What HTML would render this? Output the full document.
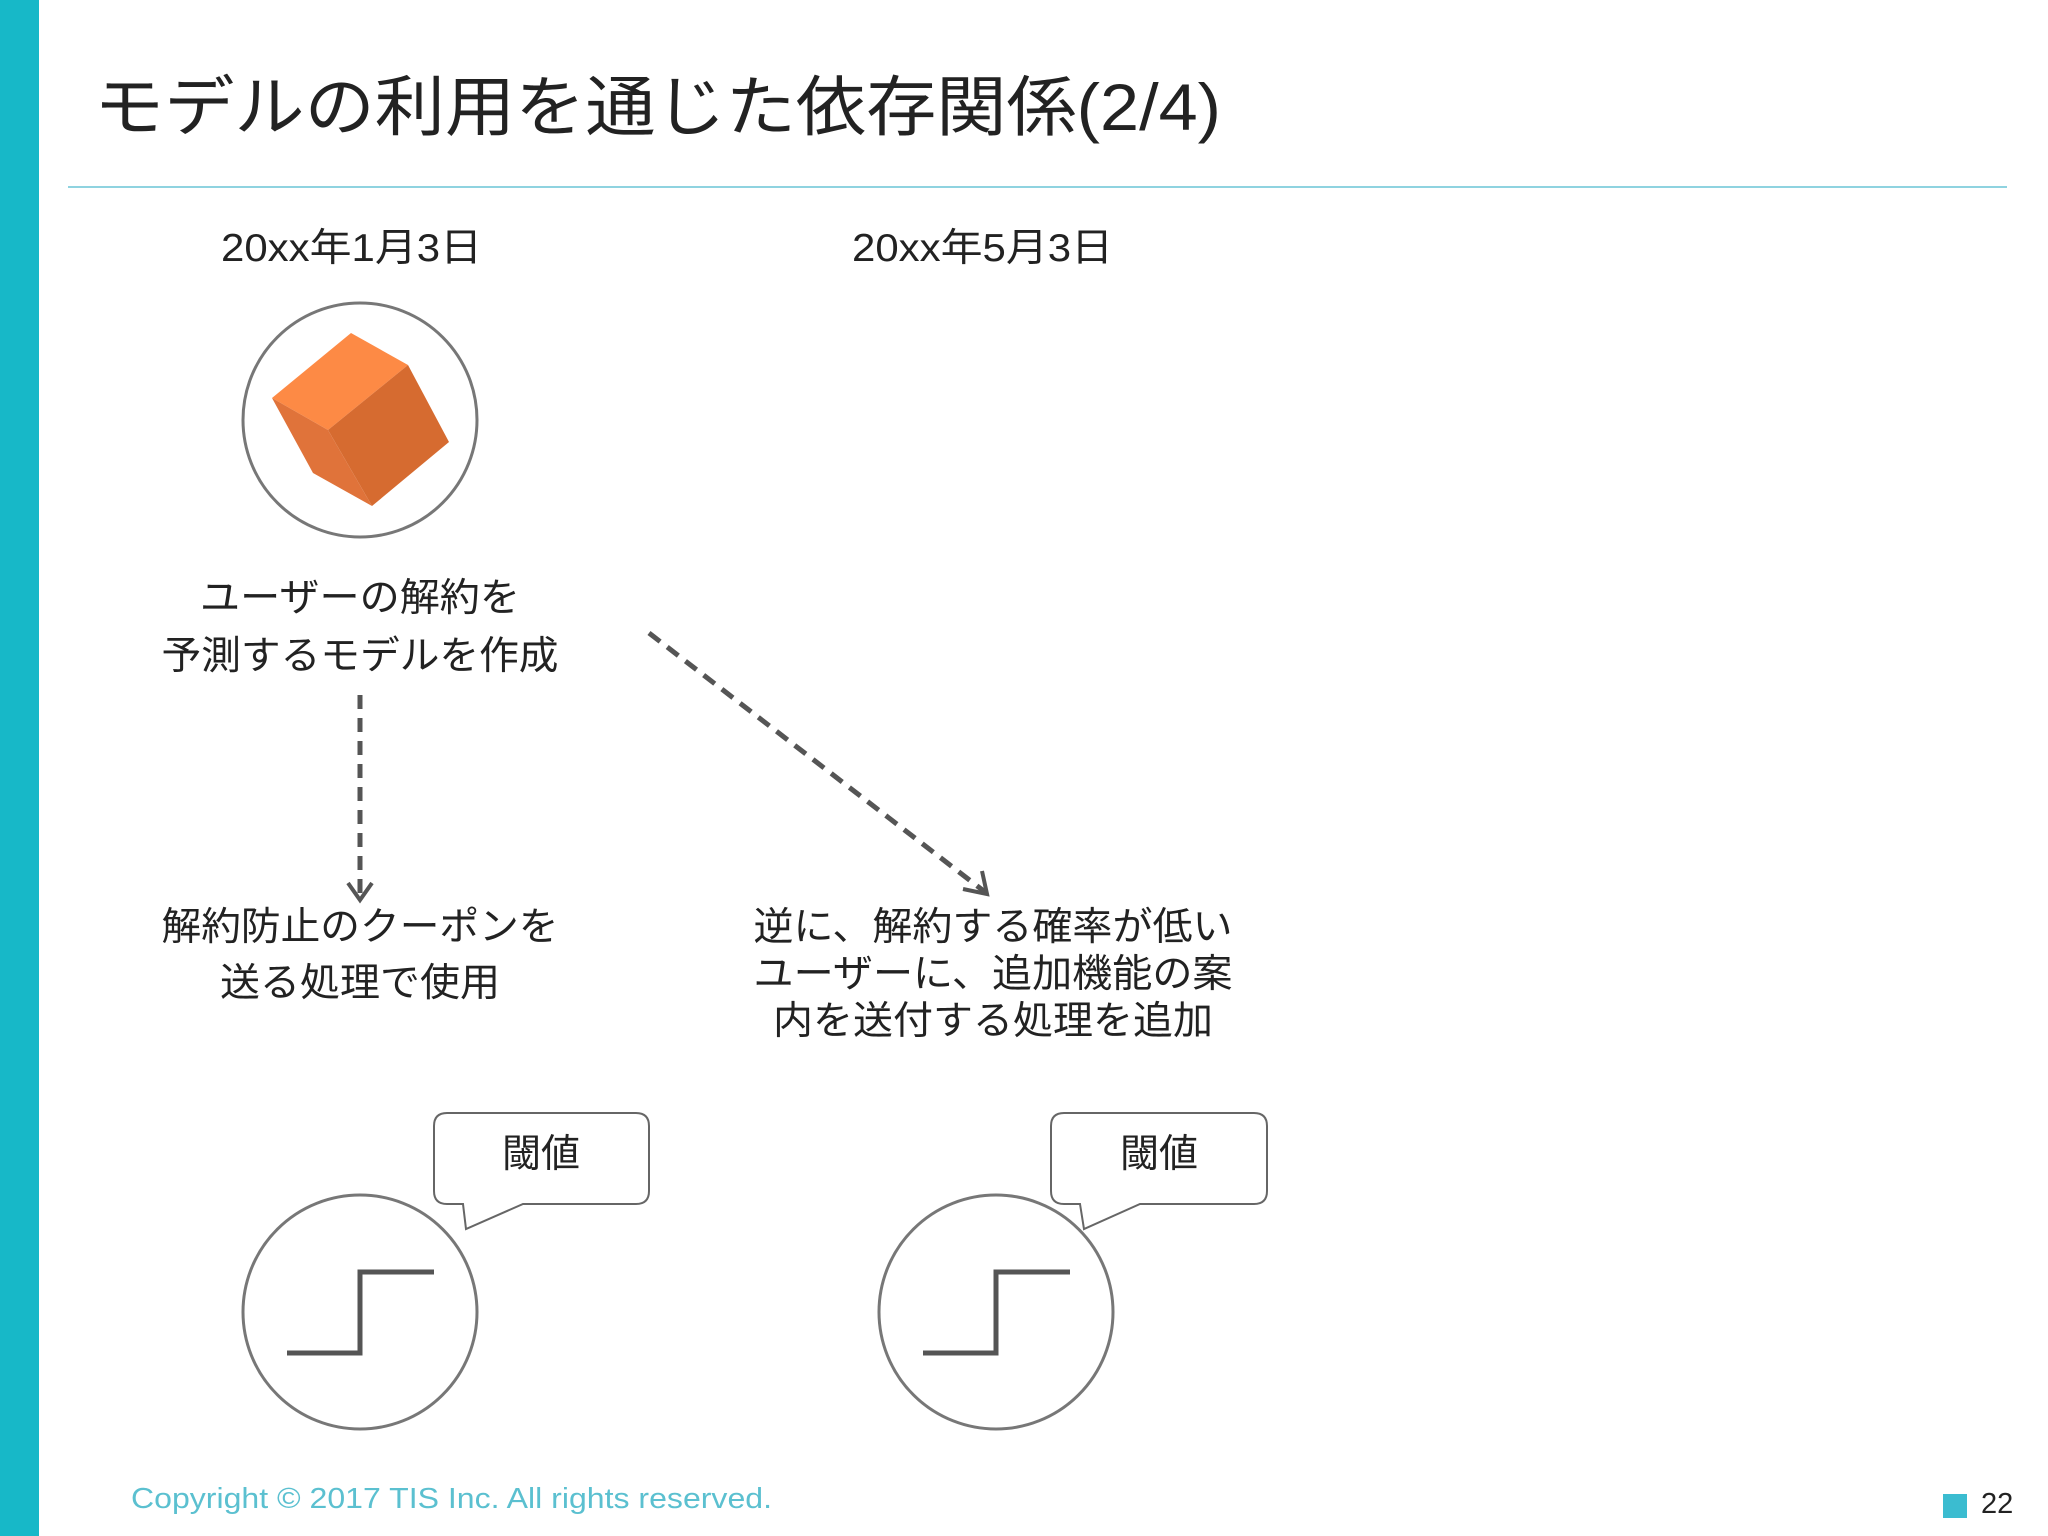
<!DOCTYPE html>
<html><head><meta charset="utf-8"><style>
html,body{margin:0;padding:0;background:#fff;}
svg{display:block;}
text{font-family:"Liberation Sans","Noto Sans CJK JP",sans-serif;fill:#222;}
</style></head><body>
<svg width="2048" height="1536" viewBox="0 0 2048 1536" xmlns="http://www.w3.org/2000/svg">
<rect x="0" y="0" width="39" height="1536" fill="#17b8c8"/>
<text x="94" y="130" font-size="66" textLength="1127" lengthAdjust="spacingAndGlyphs">モデルの利用を通じた依存関係(2/4)</text>
<line x1="68" y1="187" x2="2007" y2="187" stroke="#8fd3e0" stroke-width="2"/>
<text x="221" y="261" font-size="39" textLength="261" lengthAdjust="spacingAndGlyphs">20xx年1月3日</text>
<text x="852" y="261" font-size="39" textLength="261" lengthAdjust="spacingAndGlyphs">20xx年5月3日</text>
<circle cx="360" cy="420" r="117" fill="#fff" stroke="#777" stroke-width="3"/>
<polygon points="351,333 408,365 328,430 272,398" fill="#fd8a45"/>
<polygon points="408,365 449,442 372,506 328,430" fill="#d66b30"/>
<polygon points="272,398 328,430 372,506 313,473" fill="#e0733a"/>
<g font-size="39" text-anchor="middle" lengthAdjust="spacingAndGlyphs">
<text x="360" y="611" textLength="320" lengthAdjust="spacingAndGlyphs">ユーザーの解約を</text>
<text x="360" y="669" textLength="397" lengthAdjust="spacingAndGlyphs">予測するモデルを作成</text>
<text x="360" y="940" textLength="397" lengthAdjust="spacingAndGlyphs">解約防止のクーポンを</text>
<text x="360" y="996" textLength="280" lengthAdjust="spacingAndGlyphs">送る処理で使用</text>
<text x="993" y="940" textLength="479" lengthAdjust="spacingAndGlyphs">逆に、解約する確率が低い</text>
<text x="993" y="987" textLength="479" lengthAdjust="spacingAndGlyphs">ユーザーに、追加機能の案</text>
<text x="993" y="1034" textLength="440" lengthAdjust="spacingAndGlyphs">内を送付する処理を追加</text>
</g>
<g stroke="#555" stroke-width="5" fill="none">
<line x1="360" y1="695" x2="360" y2="895" stroke-dasharray="14,9"/>
<polyline points="348,883 360,900 372,883" stroke-width="4"/>
<line x1="649" y1="633" x2="985" y2="892" stroke-dasharray="14,9"/>
<polyline points="963,889 987,894 982,871" stroke-width="4"/>
</g>
<path d="M447,1113 H636 Q649,1113 649,1126 V1191 Q649,1204 636,1204 H523 L466,1229 L463,1204 H447 Q434,1204 434,1191 V1126 Q434,1113 447,1113 Z" fill="#fff" stroke="#666" stroke-width="2"/>
<path d="M1064,1113 H1254 Q1267,1113 1267,1126 V1191 Q1267,1204 1254,1204 H1140 L1084,1229 L1080,1204 H1064 Q1051,1204 1051,1191 V1126 Q1051,1113 1064,1113 Z" fill="#fff" stroke="#666" stroke-width="2"/>
<text x="541" y="1167" font-size="39" text-anchor="middle">閾値</text>
<text x="1159" y="1167" font-size="39" text-anchor="middle">閾値</text>
<circle cx="360" cy="1312" r="117" fill="#fff" stroke="#777" stroke-width="3"/>
<circle cx="996" cy="1312" r="117" fill="#fff" stroke="#777" stroke-width="3"/>
<polyline points="287,1353 360,1353 360,1272 434,1272" fill="none" stroke="#555" stroke-width="5"/>
<polyline points="923,1353 996,1353 996,1272 1070,1272" fill="none" stroke="#555" stroke-width="5"/>
<text x="131" y="1508" font-size="29" textLength="641" lengthAdjust="spacingAndGlyphs" style="fill:#5bc0d0">Copyright © 2017 TIS Inc. All rights reserved.</text>
<rect x="1943" y="1494" width="24" height="24" fill="#3bbcd0"/>
<text x="1981" y="1513" font-size="29">22</text>
</svg>
</body></html>
